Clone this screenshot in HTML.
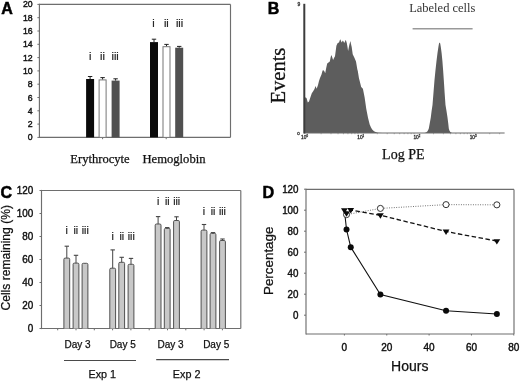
<!DOCTYPE html>
<html><head><meta charset="utf-8"><style>
html,body{margin:0;padding:0;background:#fff;}
svg{display:block;will-change:transform;filter:blur(0.4px);}
</style></head><body>
<svg width="520" height="382" viewBox="0 0 520 382">
<rect width="520" height="382" fill="#fff"/>
<text x="1.20" y="13.80" font-family='"Liberation Sans", sans-serif' font-size="16" text-anchor="start" font-weight="bold" fill="#000" stroke="#000" stroke-width="0.5" >A</text>
<line x1="39.40" y1="4.40" x2="230.50" y2="4.40" stroke="#6e6e6e" stroke-width="1.15" />
<line x1="230.50" y1="4.40" x2="230.50" y2="137.40" stroke="#6e6e6e" stroke-width="1.15" />
<line x1="39.40" y1="137.40" x2="230.50" y2="137.40" stroke="#6e6e6e" stroke-width="1.15" />
<line x1="39.40" y1="3.80" x2="39.40" y2="138.00" stroke="#6e6e6e" stroke-width="1.15" />
<line x1="37.40" y1="137.40" x2="39.40" y2="137.40" stroke="#6e6e6e" stroke-width="1" />
<text x="0.00" y="0.00" font-family='"Liberation Sans", sans-serif' font-size="9.3" text-anchor="end" font-weight="normal" fill="#111" stroke="#111" stroke-width="0.42" transform="translate(32.6,140.40) scale(0.94,1)">0</text>
<line x1="37.40" y1="124.10" x2="39.40" y2="124.10" stroke="#6e6e6e" stroke-width="1" />
<text x="0.00" y="0.00" font-family='"Liberation Sans", sans-serif' font-size="9.3" text-anchor="end" font-weight="normal" fill="#111" stroke="#111" stroke-width="0.42" transform="translate(32.6,127.10) scale(0.94,1)">2</text>
<line x1="37.40" y1="110.80" x2="39.40" y2="110.80" stroke="#6e6e6e" stroke-width="1" />
<text x="0.00" y="0.00" font-family='"Liberation Sans", sans-serif' font-size="9.3" text-anchor="end" font-weight="normal" fill="#111" stroke="#111" stroke-width="0.42" transform="translate(32.6,113.80) scale(0.94,1)">4</text>
<line x1="37.40" y1="97.50" x2="39.40" y2="97.50" stroke="#6e6e6e" stroke-width="1" />
<text x="0.00" y="0.00" font-family='"Liberation Sans", sans-serif' font-size="9.3" text-anchor="end" font-weight="normal" fill="#111" stroke="#111" stroke-width="0.42" transform="translate(32.6,100.50) scale(0.94,1)">6</text>
<line x1="37.40" y1="84.20" x2="39.40" y2="84.20" stroke="#6e6e6e" stroke-width="1" />
<text x="0.00" y="0.00" font-family='"Liberation Sans", sans-serif' font-size="9.3" text-anchor="end" font-weight="normal" fill="#111" stroke="#111" stroke-width="0.42" transform="translate(32.6,87.20) scale(0.94,1)">8</text>
<line x1="37.40" y1="70.90" x2="39.40" y2="70.90" stroke="#6e6e6e" stroke-width="1" />
<text x="0.00" y="0.00" font-family='"Liberation Sans", sans-serif' font-size="9.3" text-anchor="end" font-weight="normal" fill="#111" stroke="#111" stroke-width="0.42" transform="translate(32.6,73.90) scale(0.94,1)">10</text>
<line x1="37.40" y1="57.60" x2="39.40" y2="57.60" stroke="#6e6e6e" stroke-width="1" />
<text x="0.00" y="0.00" font-family='"Liberation Sans", sans-serif' font-size="9.3" text-anchor="end" font-weight="normal" fill="#111" stroke="#111" stroke-width="0.42" transform="translate(32.6,60.60) scale(0.94,1)">12</text>
<line x1="37.40" y1="44.30" x2="39.40" y2="44.30" stroke="#6e6e6e" stroke-width="1" />
<text x="0.00" y="0.00" font-family='"Liberation Sans", sans-serif' font-size="9.3" text-anchor="end" font-weight="normal" fill="#111" stroke="#111" stroke-width="0.42" transform="translate(32.6,47.30) scale(0.94,1)">14</text>
<line x1="37.40" y1="31.00" x2="39.40" y2="31.00" stroke="#6e6e6e" stroke-width="1" />
<text x="0.00" y="0.00" font-family='"Liberation Sans", sans-serif' font-size="9.3" text-anchor="end" font-weight="normal" fill="#111" stroke="#111" stroke-width="0.42" transform="translate(32.6,34.00) scale(0.94,1)">16</text>
<line x1="37.40" y1="17.70" x2="39.40" y2="17.70" stroke="#6e6e6e" stroke-width="1" />
<text x="0.00" y="0.00" font-family='"Liberation Sans", sans-serif' font-size="9.3" text-anchor="end" font-weight="normal" fill="#111" stroke="#111" stroke-width="0.42" transform="translate(32.6,20.70) scale(0.94,1)">18</text>
<line x1="37.40" y1="4.40" x2="39.40" y2="4.40" stroke="#6e6e6e" stroke-width="1" />
<text x="0.00" y="0.00" font-family='"Liberation Sans", sans-serif' font-size="9.3" text-anchor="end" font-weight="normal" fill="#111" stroke="#111" stroke-width="0.42" transform="translate(32.6,7.40) scale(0.94,1)">20</text>
<line x1="102.60" y1="137.40" x2="102.60" y2="139.20" stroke="#6e6e6e" stroke-width="1" />
<line x1="166.20" y1="137.40" x2="166.20" y2="139.20" stroke="#6e6e6e" stroke-width="1" />
<rect x="86.10" y="79.00" width="8.00" height="58.40" fill="#0a0a0a" stroke="none" stroke-width="0"/>
<line x1="90.10" y1="76.50" x2="90.10" y2="79.00" stroke="#222" stroke-width="1" />
<line x1="87.90" y1="76.50" x2="92.30" y2="76.50" stroke="#222" stroke-width="1" />
<rect x="99.10" y="79.90" width="7.00" height="57.50" fill="#fff" stroke="#777" stroke-width="1"/>
<line x1="102.60" y1="77.60" x2="102.60" y2="79.40" stroke="#222" stroke-width="1" />
<line x1="100.40" y1="77.60" x2="104.80" y2="77.60" stroke="#222" stroke-width="1" />
<rect x="111.60" y="80.60" width="8.00" height="56.80" fill="#505050" stroke="none" stroke-width="0"/>
<line x1="115.60" y1="78.80" x2="115.60" y2="80.60" stroke="#222" stroke-width="1" />
<line x1="113.40" y1="78.80" x2="117.80" y2="78.80" stroke="#222" stroke-width="1" />
<rect x="150.00" y="42.10" width="8.00" height="95.30" fill="#0a0a0a" stroke="none" stroke-width="0"/>
<line x1="154.00" y1="39.20" x2="154.00" y2="42.10" stroke="#222" stroke-width="1" />
<line x1="151.80" y1="39.20" x2="156.20" y2="39.20" stroke="#222" stroke-width="1" />
<rect x="163.00" y="46.70" width="7.00" height="90.70" fill="#fff" stroke="#777" stroke-width="1"/>
<line x1="166.50" y1="44.40" x2="166.50" y2="46.20" stroke="#222" stroke-width="1" />
<line x1="164.30" y1="44.40" x2="168.70" y2="44.40" stroke="#222" stroke-width="1" />
<rect x="175.20" y="47.70" width="8.00" height="89.70" fill="#505050" stroke="none" stroke-width="0"/>
<line x1="179.20" y1="46.40" x2="179.20" y2="47.70" stroke="#222" stroke-width="1" />
<line x1="177.00" y1="46.40" x2="181.40" y2="46.40" stroke="#222" stroke-width="1" />
<text x="90.20" y="59.90" font-family='"Liberation Sans", sans-serif' font-size="11" text-anchor="middle" font-weight="normal" fill="#222" stroke="#222" stroke-width="0.2" >i</text>
<text x="102.40" y="59.90" font-family='"Liberation Sans", sans-serif' font-size="11" text-anchor="middle" font-weight="normal" fill="#222" stroke="#222" stroke-width="0.2" >ii</text>
<text x="115.15" y="59.90" font-family='"Liberation Sans", sans-serif' font-size="11" text-anchor="middle" font-weight="normal" fill="#222" stroke="#222" stroke-width="0.2" >iii</text>
<text x="153.40" y="26.90" font-family='"Liberation Sans", sans-serif' font-size="11" text-anchor="middle" font-weight="normal" fill="#222" stroke="#222" stroke-width="0.2" >i</text>
<text x="166.35" y="26.90" font-family='"Liberation Sans", sans-serif' font-size="11" text-anchor="middle" font-weight="normal" fill="#222" stroke="#222" stroke-width="0.2" >ii</text>
<text x="179.60" y="26.90" font-family='"Liberation Sans", sans-serif' font-size="11" text-anchor="middle" font-weight="normal" fill="#222" stroke="#222" stroke-width="0.2" >iii</text>
<text x="100.00" y="162.80" font-family='"Liberation Serif", serif' font-size="12.6" text-anchor="middle" font-weight="normal" fill="#111" stroke="#111" stroke-width="0.25" >Erythrocyte</text>
<text x="174.00" y="162.60" font-family='"Liberation Serif", serif' font-size="12.6" text-anchor="middle" font-weight="normal" fill="#111" stroke="#111" stroke-width="0.25" >Hemoglobin</text>
<text x="267.80" y="13.60" font-family='"Liberation Sans", sans-serif' font-size="16" text-anchor="start" font-weight="bold" fill="#000" stroke="#000" stroke-width="0.5" >B</text>
<polygon points="304.5,133.0 304.5,97.0 305.5,97.5 306.5,98.0 307.8,102.5 309.0,101.5 310.5,97.0 311.8,93.3 313.0,91.5 314.5,89.0 315.5,86.0 316.7,88.8 318.0,85.0 319.0,81.0 320.0,78.0 321.5,74.5 322.6,70.6 323.4,70.3 324.2,71.0 325.2,73.2 326.2,68.0 327.2,63.4 328.5,62.5 329.8,61.4 330.7,57.0 331.5,54.9 332.3,57.5 333.1,60.1 334.0,58.0 335.0,56.2 335.7,51.0 336.4,45.7 337.7,43.1 339.0,42.4 339.7,40.5 340.3,39.2 341.0,41.0 341.6,42.4 342.2,41.5 342.9,40.5 343.5,41.5 344.2,43.1 345.0,41.5 345.8,39.8 346.3,41.5 346.8,43.1 347.5,47.0 348.1,50.9 349.3,45.0 350.4,41.1 351.0,44.0 351.7,47.0 352.7,54.2 354.3,57.5 356.0,61.4 357.3,69.3 357.8,71.0 359.0,78.4 359.5,80.2 361.2,87.0 362.9,88.7 364.6,97.2 366.3,109.1 368.0,117.7 369.7,124.5 371.0,127.5 372.2,129.6 374.0,131.2 375.6,132.1 378.0,132.8 382.4,133.0" fill="#5d5d5d"/>
<polygon points="424.5,133.0 426.0,132.5 427.3,131.5 428.2,130.0 428.8,128.5 429.8,123.0 430.8,117.5 431.6,111.0 432.5,105.0 433.5,92.5 434.5,80.0 435.5,70.0 436.5,61.0 437.5,53.0 438.4,47.0 439.0,43.6 439.6,42.4 440.2,43.6 440.8,47.0 441.6,53.0 442.4,61.0 443.1,70.0 443.8,80.0 444.6,92.5 445.5,105.0 446.5,111.0 447.5,117.5 448.2,123.0 448.8,128.5 449.3,130.3 450.3,132.0 452.0,133.0" fill="#5d5d5d"/>
<line x1="304.00" y1="133.00" x2="504.60" y2="133.00" stroke="#6a6a6a" stroke-width="1.2" />
<line x1="304.30" y1="3.80" x2="304.30" y2="133.50" stroke="#3c3c3c" stroke-width="2.0" />
<line x1="321.12" y1="133.00" x2="321.12" y2="134.20" stroke="#888" stroke-width="0.8" />
<line x1="331.01" y1="133.00" x2="331.01" y2="134.20" stroke="#888" stroke-width="0.8" />
<line x1="338.04" y1="133.00" x2="338.04" y2="134.20" stroke="#888" stroke-width="0.8" />
<line x1="343.48" y1="133.00" x2="343.48" y2="134.20" stroke="#888" stroke-width="0.8" />
<line x1="347.93" y1="133.00" x2="347.93" y2="134.20" stroke="#888" stroke-width="0.8" />
<line x1="351.69" y1="133.00" x2="351.69" y2="134.20" stroke="#888" stroke-width="0.8" />
<line x1="354.95" y1="133.00" x2="354.95" y2="134.20" stroke="#888" stroke-width="0.8" />
<line x1="357.83" y1="133.00" x2="357.83" y2="134.20" stroke="#888" stroke-width="0.8" />
<line x1="377.32" y1="133.00" x2="377.32" y2="134.20" stroke="#888" stroke-width="0.8" />
<line x1="387.21" y1="133.00" x2="387.21" y2="134.20" stroke="#888" stroke-width="0.8" />
<line x1="394.24" y1="133.00" x2="394.24" y2="134.20" stroke="#888" stroke-width="0.8" />
<line x1="399.68" y1="133.00" x2="399.68" y2="134.20" stroke="#888" stroke-width="0.8" />
<line x1="404.13" y1="133.00" x2="404.13" y2="134.20" stroke="#888" stroke-width="0.8" />
<line x1="407.89" y1="133.00" x2="407.89" y2="134.20" stroke="#888" stroke-width="0.8" />
<line x1="411.15" y1="133.00" x2="411.15" y2="134.20" stroke="#888" stroke-width="0.8" />
<line x1="414.03" y1="133.00" x2="414.03" y2="134.20" stroke="#888" stroke-width="0.8" />
<line x1="433.52" y1="133.00" x2="433.52" y2="134.20" stroke="#888" stroke-width="0.8" />
<line x1="443.41" y1="133.00" x2="443.41" y2="134.20" stroke="#888" stroke-width="0.8" />
<line x1="450.44" y1="133.00" x2="450.44" y2="134.20" stroke="#888" stroke-width="0.8" />
<line x1="455.88" y1="133.00" x2="455.88" y2="134.20" stroke="#888" stroke-width="0.8" />
<line x1="460.33" y1="133.00" x2="460.33" y2="134.20" stroke="#888" stroke-width="0.8" />
<line x1="464.09" y1="133.00" x2="464.09" y2="134.20" stroke="#888" stroke-width="0.8" />
<line x1="467.35" y1="133.00" x2="467.35" y2="134.20" stroke="#888" stroke-width="0.8" />
<line x1="470.23" y1="133.00" x2="470.23" y2="134.20" stroke="#888" stroke-width="0.8" />
<line x1="489.72" y1="133.00" x2="489.72" y2="134.20" stroke="#888" stroke-width="0.8" />
<line x1="499.61" y1="133.00" x2="499.61" y2="134.20" stroke="#888" stroke-width="0.8" />
<text x="304.50" y="138.90" font-family='"Liberation Sans", sans-serif' font-size="4.8" text-anchor="middle" font-weight="normal" fill="#333" stroke="#333" stroke-width="0.3" >10<tspan font-size="2.8" dy="-1.7">0</tspan></text>
<text x="360.70" y="138.90" font-family='"Liberation Sans", sans-serif' font-size="4.8" text-anchor="middle" font-weight="normal" fill="#333" stroke="#333" stroke-width="0.3" >10<tspan font-size="2.8" dy="-1.7">1</tspan></text>
<text x="416.90" y="138.90" font-family='"Liberation Sans", sans-serif' font-size="4.8" text-anchor="middle" font-weight="normal" fill="#333" stroke="#333" stroke-width="0.3" >10<tspan font-size="2.8" dy="-1.7">2</tspan></text>
<text x="473.10" y="138.90" font-family='"Liberation Sans", sans-serif' font-size="4.8" text-anchor="middle" font-weight="normal" fill="#333" stroke="#333" stroke-width="0.3" >10<tspan font-size="2.8" dy="-1.7">3</tspan></text>
<text x="298.60" y="135.00" font-family='"Liberation Sans", sans-serif' font-size="4.4" text-anchor="middle" font-weight="normal" fill="#333" stroke="#333" stroke-width="0.3" >0</text>
<text x="298.80" y="6.00" font-family='"Liberation Sans", sans-serif' font-size="5" text-anchor="middle" font-weight="normal" fill="#333" stroke="#333" stroke-width="0.3" >9</text>
<text x="0.00" y="0.00" font-family='"Liberation Serif", serif' font-size="20.5" text-anchor="middle" font-weight="normal" fill="#111" stroke="#111" stroke-width="0.3" transform="translate(285.3,75.6) rotate(-90)">Events</text>
<text x="403.30" y="159.00" font-family='"Liberation Serif", serif' font-size="14" text-anchor="middle" font-weight="normal" fill="#111" stroke="#111" stroke-width="0.25" >Log PE</text>
<text x="442.30" y="12.30" font-family='"Liberation Serif", serif' font-size="12.5" text-anchor="middle" font-weight="normal" fill="#333"  >Labeled cells</text>
<line x1="412.60" y1="28.80" x2="472.60" y2="28.80" stroke="#999" stroke-width="1.4" />
<text x="0.50" y="197.60" font-family='"Liberation Sans", sans-serif' font-size="16" text-anchor="start" font-weight="bold" fill="#000" stroke="#000" stroke-width="0.5" >C</text>
<line x1="41.50" y1="190.50" x2="240.80" y2="190.50" stroke="#6e6e6e" stroke-width="1.15" />
<line x1="240.80" y1="190.50" x2="240.80" y2="328.50" stroke="#6e6e6e" stroke-width="1.15" />
<line x1="41.50" y1="328.50" x2="240.80" y2="328.50" stroke="#6e6e6e" stroke-width="1.15" />
<line x1="41.50" y1="189.90" x2="41.50" y2="329.10" stroke="#6e6e6e" stroke-width="1.15" />
<line x1="39.50" y1="328.50" x2="41.50" y2="328.50" stroke="#6e6e6e" stroke-width="1" />
<text x="0.00" y="0.00" font-family='"Liberation Sans", sans-serif' font-size="10.3" text-anchor="end" font-weight="normal" fill="#111" stroke="#111" stroke-width="0.42" transform="translate(33.3,331.70) scale(0.96,1)">0</text>
<line x1="39.50" y1="305.50" x2="41.50" y2="305.50" stroke="#6e6e6e" stroke-width="1" />
<text x="0.00" y="0.00" font-family='"Liberation Sans", sans-serif' font-size="10.3" text-anchor="end" font-weight="normal" fill="#111" stroke="#111" stroke-width="0.42" transform="translate(33.3,308.70) scale(0.96,1)">20</text>
<line x1="39.50" y1="282.50" x2="41.50" y2="282.50" stroke="#6e6e6e" stroke-width="1" />
<text x="0.00" y="0.00" font-family='"Liberation Sans", sans-serif' font-size="10.3" text-anchor="end" font-weight="normal" fill="#111" stroke="#111" stroke-width="0.42" transform="translate(33.3,285.70) scale(0.96,1)">40</text>
<line x1="39.50" y1="259.50" x2="41.50" y2="259.50" stroke="#6e6e6e" stroke-width="1" />
<text x="0.00" y="0.00" font-family='"Liberation Sans", sans-serif' font-size="10.3" text-anchor="end" font-weight="normal" fill="#111" stroke="#111" stroke-width="0.42" transform="translate(33.3,262.70) scale(0.96,1)">60</text>
<line x1="39.50" y1="236.50" x2="41.50" y2="236.50" stroke="#6e6e6e" stroke-width="1" />
<text x="0.00" y="0.00" font-family='"Liberation Sans", sans-serif' font-size="10.3" text-anchor="end" font-weight="normal" fill="#111" stroke="#111" stroke-width="0.42" transform="translate(33.3,239.70) scale(0.96,1)">80</text>
<line x1="39.50" y1="213.50" x2="41.50" y2="213.50" stroke="#6e6e6e" stroke-width="1" />
<text x="0.00" y="0.00" font-family='"Liberation Sans", sans-serif' font-size="10.3" text-anchor="end" font-weight="normal" fill="#111" stroke="#111" stroke-width="0.42" transform="translate(33.3,216.70) scale(0.96,1)">100</text>
<line x1="39.50" y1="190.50" x2="41.50" y2="190.50" stroke="#6e6e6e" stroke-width="1" />
<text x="0.00" y="0.00" font-family='"Liberation Sans", sans-serif' font-size="10.3" text-anchor="end" font-weight="normal" fill="#111" stroke="#111" stroke-width="0.42" transform="translate(33.3,193.70) scale(0.96,1)">120</text>
<line x1="57.70" y1="328.50" x2="57.70" y2="330.30" stroke="#6e6e6e" stroke-width="1" />
<line x1="76.00" y1="328.50" x2="76.00" y2="330.30" stroke="#6e6e6e" stroke-width="1" />
<line x1="94.30" y1="328.50" x2="94.30" y2="330.30" stroke="#6e6e6e" stroke-width="1" />
<line x1="112.60" y1="328.50" x2="112.60" y2="330.30" stroke="#6e6e6e" stroke-width="1" />
<line x1="130.90" y1="328.50" x2="130.90" y2="330.30" stroke="#6e6e6e" stroke-width="1" />
<line x1="149.20" y1="328.50" x2="149.20" y2="330.30" stroke="#6e6e6e" stroke-width="1" />
<line x1="167.50" y1="328.50" x2="167.50" y2="330.30" stroke="#6e6e6e" stroke-width="1" />
<line x1="185.80" y1="328.50" x2="185.80" y2="330.30" stroke="#6e6e6e" stroke-width="1" />
<line x1="204.10" y1="328.50" x2="204.10" y2="330.30" stroke="#6e6e6e" stroke-width="1" />
<line x1="222.40" y1="328.50" x2="222.40" y2="330.30" stroke="#6e6e6e" stroke-width="1" />
<line x1="66.80" y1="246.20" x2="66.80" y2="258.10" stroke="#444" stroke-width="1" />
<line x1="64.60" y1="246.20" x2="69.00" y2="246.20" stroke="#444" stroke-width="1.1" />
<path d="M63.90,328.50 L63.90,259.30 Q63.90,258.10 65.10,258.10 L68.50,258.10 Q69.70,258.10 69.70,259.30 L69.70,328.50" fill="#c8c8c8" stroke="#505050" stroke-width="1"/>
<line x1="76.00" y1="255.30" x2="76.00" y2="263.10" stroke="#444" stroke-width="1" />
<line x1="73.80" y1="255.30" x2="78.20" y2="255.30" stroke="#444" stroke-width="1.1" />
<path d="M73.10,328.50 L73.10,264.30 Q73.10,263.10 74.30,263.10 L77.70,263.10 Q78.90,263.10 78.90,264.30 L78.90,328.50" fill="#c8c8c8" stroke="#505050" stroke-width="1"/>
<path d="M82.10,328.50 L82.10,264.50 Q82.10,263.30 83.30,263.30 L86.70,263.30 Q87.90,263.30 87.90,264.50 L87.90,328.50" fill="#c8c8c8" stroke="#505050" stroke-width="1"/>
<line x1="112.70" y1="249.90" x2="112.70" y2="268.20" stroke="#444" stroke-width="1" />
<line x1="110.50" y1="249.90" x2="114.90" y2="249.90" stroke="#444" stroke-width="1.1" />
<path d="M109.80,328.50 L109.80,269.40 Q109.80,268.20 111.00,268.20 L114.40,268.20 Q115.60,268.20 115.60,269.40 L115.60,328.50" fill="#c8c8c8" stroke="#505050" stroke-width="1"/>
<line x1="121.70" y1="257.30" x2="121.70" y2="262.30" stroke="#444" stroke-width="1" />
<line x1="119.50" y1="257.30" x2="123.90" y2="257.30" stroke="#444" stroke-width="1.1" />
<path d="M118.80,328.50 L118.80,263.50 Q118.80,262.30 120.00,262.30 L123.40,262.30 Q124.60,262.30 124.60,263.50 L124.60,328.50" fill="#c8c8c8" stroke="#505050" stroke-width="1"/>
<line x1="131.00" y1="258.40" x2="131.00" y2="264.30" stroke="#444" stroke-width="1" />
<line x1="128.80" y1="258.40" x2="133.20" y2="258.40" stroke="#444" stroke-width="1.1" />
<path d="M128.10,328.50 L128.10,265.50 Q128.10,264.30 129.30,264.30 L132.70,264.30 Q133.90,264.30 133.90,265.50 L133.90,328.50" fill="#c8c8c8" stroke="#505050" stroke-width="1"/>
<line x1="158.10" y1="216.60" x2="158.10" y2="224.00" stroke="#444" stroke-width="1" />
<line x1="155.90" y1="216.60" x2="160.30" y2="216.60" stroke="#444" stroke-width="1.1" />
<path d="M155.20,328.50 L155.20,225.20 Q155.20,224.00 156.40,224.00 L159.80,224.00 Q161.00,224.00 161.00,225.20 L161.00,328.50" fill="#c8c8c8" stroke="#505050" stroke-width="1"/>
<line x1="167.20" y1="227.60" x2="167.20" y2="228.40" stroke="#444" stroke-width="1" />
<line x1="165.00" y1="227.60" x2="169.40" y2="227.60" stroke="#444" stroke-width="1.1" />
<path d="M164.30,328.50 L164.30,229.60 Q164.30,228.40 165.50,228.40 L168.90,228.40 Q170.10,228.40 170.10,229.60 L170.10,328.50" fill="#c8c8c8" stroke="#505050" stroke-width="1"/>
<line x1="176.50" y1="216.80" x2="176.50" y2="220.50" stroke="#444" stroke-width="1" />
<line x1="174.30" y1="216.80" x2="178.70" y2="216.80" stroke="#444" stroke-width="1.1" />
<path d="M173.60,328.50 L173.60,221.70 Q173.60,220.50 174.80,220.50 L178.20,220.50 Q179.40,220.50 179.40,221.70 L179.40,328.50" fill="#c8c8c8" stroke="#505050" stroke-width="1"/>
<line x1="204.00" y1="224.50" x2="204.00" y2="230.10" stroke="#444" stroke-width="1" />
<line x1="201.80" y1="224.50" x2="206.20" y2="224.50" stroke="#444" stroke-width="1.1" />
<path d="M201.10,328.50 L201.10,231.30 Q201.10,230.10 202.30,230.10 L205.70,230.10 Q206.90,230.10 206.90,231.30 L206.90,328.50" fill="#c8c8c8" stroke="#505050" stroke-width="1"/>
<line x1="213.00" y1="232.60" x2="213.00" y2="233.40" stroke="#444" stroke-width="1" />
<line x1="210.80" y1="232.60" x2="215.20" y2="232.60" stroke="#444" stroke-width="1.1" />
<path d="M210.10,328.50 L210.10,234.60 Q210.10,233.40 211.30,233.40 L214.70,233.40 Q215.90,233.40 215.90,234.60 L215.90,328.50" fill="#c8c8c8" stroke="#505050" stroke-width="1"/>
<line x1="222.50" y1="239.00" x2="222.50" y2="240.50" stroke="#444" stroke-width="1" />
<line x1="220.30" y1="239.00" x2="224.70" y2="239.00" stroke="#444" stroke-width="1.1" />
<path d="M219.60,328.50 L219.60,241.70 Q219.60,240.50 220.80,240.50 L224.20,240.50 Q225.40,240.50 225.40,241.70 L225.40,328.50" fill="#c8c8c8" stroke="#505050" stroke-width="1"/>
<text x="66.70" y="234.10" font-family='"Liberation Sans", sans-serif' font-size="10.5" text-anchor="middle" font-weight="normal" fill="#222" stroke="#222" stroke-width="0.2" >i</text>
<text x="75.85" y="234.10" font-family='"Liberation Sans", sans-serif' font-size="10.5" text-anchor="middle" font-weight="normal" fill="#222" stroke="#222" stroke-width="0.2" >ii</text>
<text x="85.25" y="234.10" font-family='"Liberation Sans", sans-serif' font-size="10.5" text-anchor="middle" font-weight="normal" fill="#222" stroke="#222" stroke-width="0.2" >iii</text>
<text x="112.70" y="240.10" font-family='"Liberation Sans", sans-serif' font-size="10.5" text-anchor="middle" font-weight="normal" fill="#222" stroke="#222" stroke-width="0.2" >i</text>
<text x="121.85" y="240.10" font-family='"Liberation Sans", sans-serif' font-size="10.5" text-anchor="middle" font-weight="normal" fill="#222" stroke="#222" stroke-width="0.2" >ii</text>
<text x="131.25" y="240.10" font-family='"Liberation Sans", sans-serif' font-size="10.5" text-anchor="middle" font-weight="normal" fill="#222" stroke="#222" stroke-width="0.2" >iii</text>
<text x="158.10" y="205.00" font-family='"Liberation Sans", sans-serif' font-size="10.5" text-anchor="middle" font-weight="normal" fill="#222" stroke="#222" stroke-width="0.2" >i</text>
<text x="167.25" y="205.00" font-family='"Liberation Sans", sans-serif' font-size="10.5" text-anchor="middle" font-weight="normal" fill="#222" stroke="#222" stroke-width="0.2" >ii</text>
<text x="176.65" y="205.00" font-family='"Liberation Sans", sans-serif' font-size="10.5" text-anchor="middle" font-weight="normal" fill="#222" stroke="#222" stroke-width="0.2" >iii</text>
<text x="203.90" y="214.60" font-family='"Liberation Sans", sans-serif' font-size="10.5" text-anchor="middle" font-weight="normal" fill="#222" stroke="#222" stroke-width="0.2" >i</text>
<text x="213.05" y="214.60" font-family='"Liberation Sans", sans-serif' font-size="10.5" text-anchor="middle" font-weight="normal" fill="#222" stroke="#222" stroke-width="0.2" >ii</text>
<text x="222.45" y="214.60" font-family='"Liberation Sans", sans-serif' font-size="10.5" text-anchor="middle" font-weight="normal" fill="#222" stroke="#222" stroke-width="0.2" >iii</text>
<text x="77.50" y="348.30" font-family='"Liberation Sans", sans-serif' font-size="10" text-anchor="middle" font-weight="normal" fill="#111" stroke="#111" stroke-width="0.25" >Day 3</text>
<text x="122.70" y="348.30" font-family='"Liberation Sans", sans-serif' font-size="10" text-anchor="middle" font-weight="normal" fill="#111" stroke="#111" stroke-width="0.25" >Day 5</text>
<text x="170.60" y="348.30" font-family='"Liberation Sans", sans-serif' font-size="10" text-anchor="middle" font-weight="normal" fill="#111" stroke="#111" stroke-width="0.25" >Day 3</text>
<text x="216.20" y="348.30" font-family='"Liberation Sans", sans-serif' font-size="10" text-anchor="middle" font-weight="normal" fill="#111" stroke="#111" stroke-width="0.25" >Day 5</text>
<line x1="64.00" y1="360.50" x2="136.00" y2="360.50" stroke="#4a4a4a" stroke-width="1.2" />
<line x1="156.20" y1="359.60" x2="229.00" y2="359.60" stroke="#4a4a4a" stroke-width="1.2" />
<text x="102.30" y="378.40" font-family='"Liberation Sans", sans-serif' font-size="10.8" text-anchor="middle" font-weight="normal" fill="#111" stroke="#111" stroke-width="0.25" >Exp 1</text>
<text x="186.60" y="378.20" font-family='"Liberation Sans", sans-serif' font-size="10.8" text-anchor="middle" font-weight="normal" fill="#111" stroke="#111" stroke-width="0.25" >Exp 2</text>
<text x="0.00" y="0.00" font-family='"Liberation Sans", sans-serif' font-size="12.1" text-anchor="middle" font-weight="normal" fill="#111" stroke="#111" stroke-width="0.25" transform="translate(9.7,257.8) rotate(-90)">Cells remaining (%)</text>
<text x="262.50" y="198.40" font-family='"Liberation Sans", sans-serif' font-size="16.2" text-anchor="start" font-weight="bold" fill="#000" stroke="#000" stroke-width="0.5" >D</text>
<line x1="306.00" y1="189.40" x2="514.00" y2="189.40" stroke="#6e6e6e" stroke-width="1.15" />
<line x1="514.00" y1="189.40" x2="514.00" y2="334.00" stroke="#6e6e6e" stroke-width="1.15" />
<line x1="306.00" y1="334.00" x2="514.00" y2="334.00" stroke="#6e6e6e" stroke-width="1.15" />
<line x1="306.00" y1="188.80" x2="306.00" y2="334.60" stroke="#6e6e6e" stroke-width="1.15" />
<line x1="304.00" y1="315.20" x2="306.00" y2="315.20" stroke="#6e6e6e" stroke-width="1" />
<text x="0.00" y="0.00" font-family='"Liberation Sans", sans-serif' font-size="10.1" text-anchor="end" font-weight="normal" fill="#111" stroke="#111" stroke-width="0.42" transform="translate(298.5,318.90) scale(0.97,1)">0</text>
<line x1="304.00" y1="294.20" x2="306.00" y2="294.20" stroke="#6e6e6e" stroke-width="1" />
<text x="0.00" y="0.00" font-family='"Liberation Sans", sans-serif' font-size="10.1" text-anchor="end" font-weight="normal" fill="#111" stroke="#111" stroke-width="0.42" transform="translate(298.5,297.90) scale(0.97,1)">20</text>
<line x1="304.00" y1="273.20" x2="306.00" y2="273.20" stroke="#6e6e6e" stroke-width="1" />
<text x="0.00" y="0.00" font-family='"Liberation Sans", sans-serif' font-size="10.1" text-anchor="end" font-weight="normal" fill="#111" stroke="#111" stroke-width="0.42" transform="translate(298.5,276.90) scale(0.97,1)">40</text>
<line x1="304.00" y1="252.20" x2="306.00" y2="252.20" stroke="#6e6e6e" stroke-width="1" />
<text x="0.00" y="0.00" font-family='"Liberation Sans", sans-serif' font-size="10.1" text-anchor="end" font-weight="normal" fill="#111" stroke="#111" stroke-width="0.42" transform="translate(298.5,255.90) scale(0.97,1)">60</text>
<line x1="304.00" y1="231.20" x2="306.00" y2="231.20" stroke="#6e6e6e" stroke-width="1" />
<text x="0.00" y="0.00" font-family='"Liberation Sans", sans-serif' font-size="10.1" text-anchor="end" font-weight="normal" fill="#111" stroke="#111" stroke-width="0.42" transform="translate(298.5,234.90) scale(0.97,1)">80</text>
<line x1="304.00" y1="210.20" x2="306.00" y2="210.20" stroke="#6e6e6e" stroke-width="1" />
<text x="0.00" y="0.00" font-family='"Liberation Sans", sans-serif' font-size="10.1" text-anchor="end" font-weight="normal" fill="#111" stroke="#111" stroke-width="0.42" transform="translate(298.5,213.90) scale(0.97,1)">100</text>
<line x1="304.00" y1="189.20" x2="306.00" y2="189.20" stroke="#6e6e6e" stroke-width="1" />
<text x="0.00" y="0.00" font-family='"Liberation Sans", sans-serif' font-size="10.1" text-anchor="end" font-weight="normal" fill="#111" stroke="#111" stroke-width="0.42" transform="translate(298.5,192.90) scale(0.97,1)">120</text>
<line x1="344.40" y1="334.00" x2="344.40" y2="335.50" stroke="#6e6e6e" stroke-width="1" />
<text x="0.00" y="0.00" font-family='"Liberation Sans", sans-serif' font-size="10" text-anchor="middle" font-weight="normal" fill="#111" stroke="#111" stroke-width="0.42" transform="translate(344.40,350.8)">0</text>
<line x1="386.75" y1="334.00" x2="386.75" y2="335.50" stroke="#6e6e6e" stroke-width="1" />
<text x="0.00" y="0.00" font-family='"Liberation Sans", sans-serif' font-size="10" text-anchor="middle" font-weight="normal" fill="#111" stroke="#111" stroke-width="0.42" transform="translate(386.75,350.8)">20</text>
<line x1="429.10" y1="334.00" x2="429.10" y2="335.50" stroke="#6e6e6e" stroke-width="1" />
<text x="0.00" y="0.00" font-family='"Liberation Sans", sans-serif' font-size="10" text-anchor="middle" font-weight="normal" fill="#111" stroke="#111" stroke-width="0.42" transform="translate(429.10,350.8)">40</text>
<line x1="471.45" y1="334.00" x2="471.45" y2="335.50" stroke="#6e6e6e" stroke-width="1" />
<text x="0.00" y="0.00" font-family='"Liberation Sans", sans-serif' font-size="10" text-anchor="middle" font-weight="normal" fill="#111" stroke="#111" stroke-width="0.42" transform="translate(471.45,350.8)">60</text>
<line x1="513.80" y1="334.00" x2="513.80" y2="335.50" stroke="#6e6e6e" stroke-width="1" />
<text x="0.00" y="0.00" font-family='"Liberation Sans", sans-serif' font-size="10" text-anchor="middle" font-weight="normal" fill="#111" stroke="#111" stroke-width="0.42" transform="translate(513.80,350.8)">80</text>
<text x="409.80" y="370.90" font-family='"Liberation Sans", sans-serif' font-size="14" text-anchor="middle" font-weight="normal" fill="#111" stroke="#111" stroke-width="0.25" >Hours</text>
<text x="0.00" y="0.00" font-family='"Liberation Sans", sans-serif' font-size="13.4" text-anchor="middle" font-weight="normal" fill="#111" stroke="#111" stroke-width="0.25" transform="translate(273.3,260.8) rotate(-90)">Percentage</text>
<polyline points="344.40,210.20 346.52,229.52 350.75,247.16 380.40,294.62 446.04,310.69 496.86,313.94" fill="none" stroke="#111" stroke-width="1.1"/>
<circle cx="346.52" cy="229.52" r="3.0" fill="#0a0a0a"/>
<circle cx="350.75" cy="247.16" r="3.0" fill="#0a0a0a"/>
<circle cx="380.40" cy="294.62" r="3.0" fill="#0a0a0a"/>
<circle cx="446.04" cy="310.69" r="3.0" fill="#0a0a0a"/>
<circle cx="496.86" cy="313.94" r="3.0" fill="#0a0a0a"/>
<polyline points="344.40,210.20 346.52,214.61 380.40,208.41 446.04,204.63 496.86,204.84" fill="none" stroke="#555" stroke-width="0.9" stroke-dasharray="0.9 1.5"/>
<circle cx="346.52" cy="214.61" r="3.05" fill="#fff" stroke="#2a2a2a" stroke-width="0.95"/>
<circle cx="380.40" cy="208.41" r="3.05" fill="#fff" stroke="#2a2a2a" stroke-width="0.95"/>
<circle cx="446.04" cy="204.63" r="3.05" fill="#fff" stroke="#2a2a2a" stroke-width="0.95"/>
<circle cx="496.86" cy="204.84" r="3.05" fill="#fff" stroke="#2a2a2a" stroke-width="0.95"/>
<polyline points="344.40,210.20 346.52,213.35 350.75,209.99 380.40,215.24 446.04,231.51 496.86,241.07" fill="none" stroke="#111" stroke-width="1.3" stroke-dasharray="4.5 2.5"/>
<polygon points="341.00,208.30 347.80,208.30 344.40,213.70" fill="#0a0a0a"/>
<polygon points="343.12,211.45 349.92,211.45 346.52,216.85" fill="#0a0a0a"/>
<polygon points="347.35,208.09 354.15,208.09 350.75,213.49" fill="#0a0a0a"/>
<polygon points="377.00,213.34 383.80,213.34 380.40,218.74" fill="#0a0a0a"/>
<polygon points="442.64,229.61 449.44,229.61 446.04,235.01" fill="#0a0a0a"/>
<polygon points="493.46,239.17 500.26,239.17 496.86,244.57" fill="#0a0a0a"/>
</svg>
</body></html>
